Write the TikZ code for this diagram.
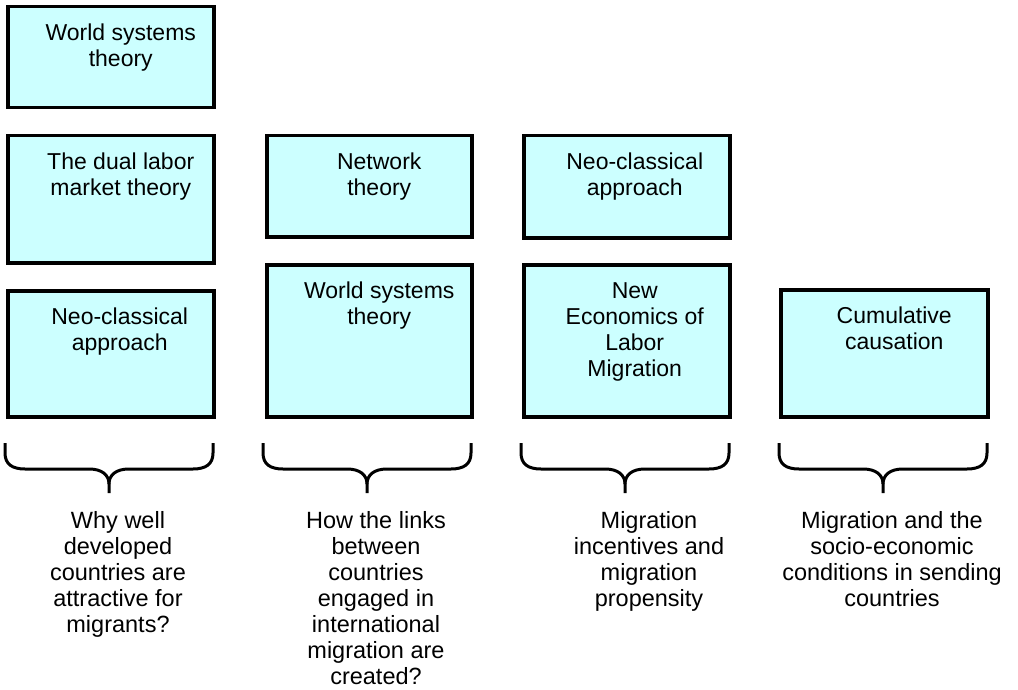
\documentclass[tikz,border=0pt]{standalone}
\usepackage{fontspec}
\setmainfont{Liberation Sans}
\definecolor{boxfill}{HTML}{CCFFFF}
\begin{document}
\begin{tikzpicture}[x=1pt,y=-1pt,
  theorybox/.style={draw=black, line width=3.5pt, fill=boxfill, inner sep=0pt, anchor=north west},
  lbl/.style={font=\fontsize{23}{26}\selectfont, align=center, inner sep=0pt, anchor=north},
  qlbl/.style={font=\fontsize{23.5}{26}\selectfont, align=center, inner sep=0pt, anchor=north},
  bracestyle/.style={draw=black, line width=3pt, line join=round, line cap=butt},
  pics/curlybrace/.style={code={
    \draw[bracestyle] (-104,0) -- (-104,10) .. controls (-104,21) and (-97,26) .. (-84,26)
      -- (-20,26) .. controls (-7,26) and (0,32) .. (0,41) -- (0,50);
    \draw[bracestyle] (104,0) -- (104,10) .. controls (104,21) and (97,26) .. (84,26)
      -- (20,26) .. controls (7,26) and (0,32) .. (0,41);
  }}]
\useasboundingbox (0,0) rectangle (1018,690);

% column 1
\node[theorybox, minimum width=206pt, minimum height=101pt] (b11) at (6,5) {};
\node[theorybox, minimum width=206pt, minimum height=127pt] (b12) at (6,134) {};
\node[theorybox, minimum width=206pt, minimum height=126pt] (b13) at (6,289) {};
% column 2
\node[theorybox, minimum width=205pt, minimum height=101pt] (b21) at (265,134) {};
\node[theorybox, minimum width=205pt, minimum height=152pt] (b22) at (265,263) {};
% column 3
\node[theorybox, minimum width=206pt, minimum height=102pt] (b31) at (522,134) {};
\node[theorybox, minimum width=206pt, minimum height=152pt] (b32) at (522,263) {};
% column 4
\node[theorybox, minimum width=207pt, minimum height=127pt] (b41) at (779,288) {};

\node[lbl] (t11) at ([xshift=10pt,yshift=-19pt]b11.north) {World systems\\theory};
\node[lbl] (t12) at ([xshift=10pt,yshift=-19pt]b12.north) {The dual labor\\market theory};
\node[lbl] (t13) at ([xshift=9pt,yshift=-19pt]b13.north) {Neo-classical\\approach};
\node[lbl] (t21) at ([xshift=10pt,yshift=-19pt]b21.north) {Network\\theory};
\node[lbl] (t22) at ([xshift=10pt,yshift=-19pt]b22.north) {World systems\\theory};
\node[lbl] (t31) at ([xshift=8pt,yshift=-19pt]b31.north) {Neo-classical\\approach};
\node[lbl] (t32) at ([xshift=8pt,yshift=-19pt]b32.north) {New\\Economics of\\Labor\\Migration};
\node[lbl] (t41) at ([xshift=10pt,yshift=-19pt]b41.north) {Cumulative\\causation};

% braces
\pic at (109,443) {curlybrace};
\pic at (367,443) {curlybrace};
\pic at (625,443) {curlybrace};
\pic at (883,443) {curlybrace};
\coordinate (tip1) at (109,493);
\coordinate (tip2) at (367,493);
\coordinate (tip3) at (625,493);
\coordinate (tip4) at (883,493);

\node[qlbl] (q1) at ([xshift=9pt,yshift=-18pt]tip1) {Why well\\developed\\countries are\\attractive for\\migrants?};
\node[qlbl] (q2) at ([xshift=9pt,yshift=-18pt]tip2) {How the links\\between\\countries\\engaged in\\international\\migration are\\created?};
\node[qlbl] (q3) at ([xshift=24pt,yshift=-18pt]tip3) {Migration\\incentives and\\migration\\propensity};
\node[qlbl] (q4) at ([xshift=9pt,yshift=-18pt]tip4) {Migration and the\\socio-economic\\conditions in sending\\countries};
\end{tikzpicture}
\end{document}
